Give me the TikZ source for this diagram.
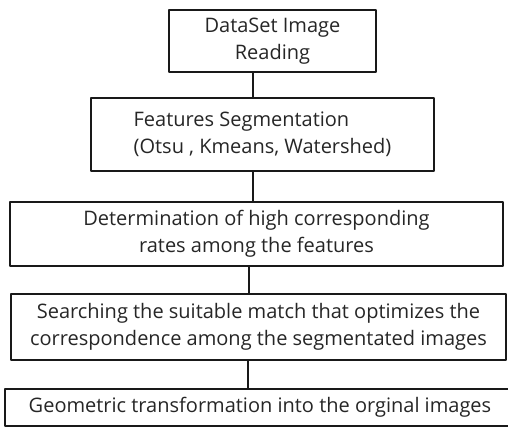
\documentclass[tikz,border=0pt]{standalone}
\usepackage{fontspec}
\setmainfont{Open Sans}
\begin{document}
\begin{tikzpicture}[x=.75pt, y=-.75pt, line join=round, line cap=round,
		font=\fontsize{15}{20.5}\selectfont,
		stage/.style 2 args={draw=black!90, line width=.9pt, inner sep=0pt, align=center, text=black!85,
			minimum width={#1*.75pt}, minimum height={#2*.75pt}},
		link/.style={draw=black!90, line width=.9pt}]
	\useasboundingbox (0,0) rectangle (508,428);
	% the five steps, top to bottom
	\node[stage={207}{62}] (read) at (272.5,41) {DataSet Image\\ Reading};
	\node[stage={343}{73}, align=left] (segm) at (262.5,134.5) {Features Segmentation\\(Otsu , Kmeans, Watershed)};
	\node[stage={493}{64}] (rate) at (256.5,234) {Determination of high corresponding\\ rates among the features};
	\node[stage={495}{66}] (match) at (258.5,327) {Searching the suitable match that optimizes the\\correspondence among the segmentated images};
	\node[stage={510}{37}] (geom) at (260,407.5) {Geometric transformation into the orginal images};
	% plain joins between the steps
	\foreach \u/\v/\x in {read/segm/253, segm/rate/253, rate/match/249, match/geom/248}
		\draw[link] (\x,0 |- \u.south) -- (\x,0 |- \v.north);
\end{tikzpicture}
\end{document}
